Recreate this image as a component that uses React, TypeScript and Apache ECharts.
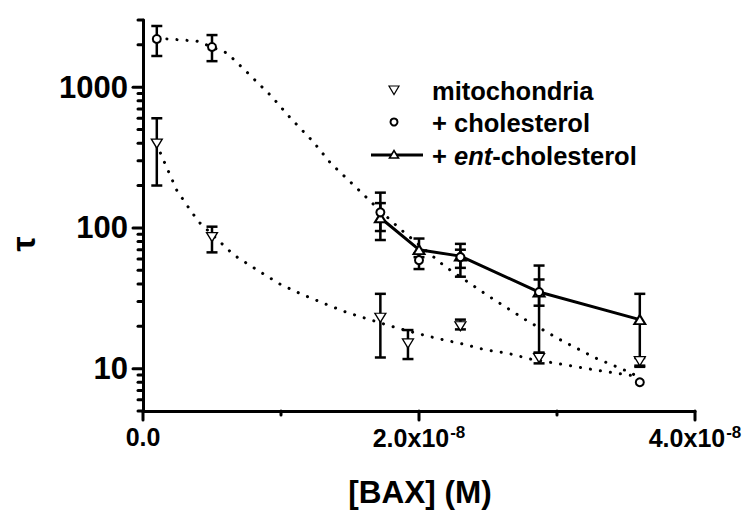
import React, { useEffect, useRef } from "react";
import * as echarts from "echarts";

// ---- data (x in M) ----
const mitoX = [0.1e-8, 0.5e-8, 1.72e-8, 1.92e-8, 2.3e-8, 2.87e-8, 3.6e-8];
const mitoY = [397, 86, 23, 15.1, 20, 11.9, 11.3];
const mitoLo = [200, 67, 12, 11.7, 19, 10.9, 10.5];
const mitoHi = [601, 102, 34, 18.8, 22.3, 12.9, 11.9];

const cholX = [0.1e-8, 0.5e-8, 1.72e-8, 2.0e-8, 2.3e-8, 2.87e-8, 3.6e-8];
const cholY = [2200, 1930, 129, 59, 62, 35, 8];
const cholLo = [1665, 1530, 82, 51, 45, 28, 8];
const cholHi = [2720, 2345, 178, 66, 70, 43, 8];

const entX = [1.72e-8, 2.0e-8, 2.3e-8, 2.87e-8, 3.6e-8];
const entY = [118, 70, 63, 35, 22.3];
const entLo = [95, 62, 52, 13, 10.3];
const entHi = [150, 84, 77, 54, 34];

const cholFitX = [0.1e-8, 0.39e-8, 0.61e-8, 0.76e-8, 0.93e-8, 1.07e-8, 1.23e-8, 1.36e-8, 1.53e-8, 1.72e-8, 1.87e-8, 2.19e-8, 2.52e-8, 2.77e-8, 3.02e-8, 3.28e-8, 3.53e-8, 3.6e-8];
const cholFitY = [2230, 2124, 1746, 1259, 863, 601, 413, 288, 200, 132, 97, 53, 32, 22.3, 16.1, 11.9, 9.4, 8.6];

const mitoFitX = [0.1e-8, 0.13e-8, 0.245e-8, 0.354e-8, 0.41e-8, 0.66e-8, 0.83e-8, 0.99e-8, 1.155e-8, 1.314e-8, 1.48e-8, 1.65e-8, 1.807e-8, 1.976e-8, 2.144e-8, 2.313e-8, 2.48e-8, 2.638e-8, 2.806e-8, 3.047e-8, 3.3e-8, 3.552e-8, 3.6e-8];
const mitoFitY = [397, 333, 185, 129, 109, 64, 50, 40, 33.6, 29, 25, 22.2, 19.9, 17.9, 16.3, 15, 13.6, 12.9, 11.7, 10.7, 9.7, 8.9, 8.6];

const yMajorTicks = [10, 100, 1000];
const yMinorTicks = [5, 6, 7, 8, 9, 20, 30, 40, 50, 60, 70, 80, 90, 200, 300, 400, 500, 600, 700, 800, 900, 2000, 3000];
const xMajorTicks = [0, 2e-8, 4e-8];
const xMinorTicks = [1e-8, 3e-8];

const FONT = "'Liberation Sans', Arial, sans-serif";

const zip = (xs: number[], ys: number[]) => xs.map((x, i) => [x, ys[i]]);
const zip3 = (xs: number[], a: number[], b: number[]) => xs.map((x, i) => [x, a[i], b[i]]);

function errRender(params: any, api: any) {
  const x = api.value(0);
  const lo = api.coord([x, api.value(1)]);
  const hi = api.coord([x, api.value(2)]);
  const hw = 5.5;
  const st = { stroke: "#000", lineWidth: 2.5 };
  if (Math.abs(lo[1] - hi[1]) < 0.5) return { type: "group", children: [] };
  return {
    type: "group",
    children: [
      { type: "line", shape: { x1: lo[0], y1: lo[1], x2: hi[0], y2: hi[1] }, style: st },
      { type: "line", shape: { x1: lo[0] - hw, y1: lo[1], x2: lo[0] + hw, y2: lo[1] }, style: st },
      { type: "line", shape: { x1: hi[0] - hw, y1: hi[1], x2: hi[0] + hw, y2: hi[1] }, style: st },
    ],
  };
}

export default function App() {
  const ref = useRef<HTMLDivElement>(null);
  useEffect(() => {
    if (!ref.current) return;
    const chart = echarts.init(ref.current, null, { renderer: "svg" });
    const dotted = {
      type: "line",
      showSymbol: false,
      symbol: "none",
      z: 1,
      lineStyle: { color: "#000", width: 3, type: [0.1, 10], cap: "round" },
      silent: true,
    };
    const errSeries = (xs: number[], lo: number[], hi: number[]) => ({
      type: "custom",
      z: 2,
      clip: false,
      data: zip3(xs, lo, hi),
      encode: { x: 0, y: [1, 2] },
      renderItem: errRender,
    });
    const tickData = [
      ...yMajorTicks.map((v) => [0, v, 1, 0]),
      ...yMinorTicks.map((v) => [0, v, 0, 0]),
      ...xMajorTicks.map((v) => [v, 5, 1, 1]),
      ...xMinorTicks.map((v) => [v, 5, 0, 1]),
    ];
    const legendText = { fontFamily: FONT, fontWeight: "bold", fontSize: 25.5, fill: "#000", verticalAlign: "middle" };
    chart.setOption({
      animation: false,
      grid: { left: 143, right: 55, top: 20, bottom: 110, outerBoundsMode: "none" },
      xAxis: {
        type: "value",
        min: 0,
        max: 4e-8,
        interval: 2e-8,
        splitLine: { show: false },
        axisTick: { show: false },
        axisLine: { lineStyle: { color: "#000", width: 3, cap: "round" } },
        axisLabel: {
          margin: 13,
          color: "#000",
          fontFamily: FONT,
          fontWeight: "bold",
          fontSize: 25,
          formatter: (v: number) => {
            if (Math.abs(v) < 1e-12) return "0.0";
            return (v / 1e-8).toFixed(1) + "x10{sup|-8}";
          },
          rich: {
            sup: { fontSize: 17, fontWeight: "bold", fontFamily: FONT, color: "#000", verticalAlign: "top", padding: [0, 0, 10, 1] },
          },
        },
      },
      yAxis: {
        type: "log",
        logBase: 10,
        min: 5,
        max: 3000,
        splitLine: { show: false },
        axisTick: { show: false },
        minorTick: { show: false },
        axisLine: { lineStyle: { color: "#000", width: 3, cap: "round" } },
        axisLabel: {
          margin: 15,
          color: "#000",
          fontFamily: FONT,
          fontWeight: "bold",
          fontSize: 31,
          formatter: (v: number) => {
            const r = Math.round(v);
            return yMajorTicks.includes(r) && Math.abs(v - r) < 1e-6 * r ? String(r) : "";
          },
        },
      },
      graphic: [
        { type: "text", x: 420, y: 492, style: { text: "[BAX] (M)", fontFamily: FONT, fontWeight: "bold", fontSize: 31.5, fill: "#000", align: "center", verticalAlign: "middle" } },
        { type: "text", x: 23, y: 244, rotation: Math.PI / 2, style: { text: "τ", fontFamily: FONT, fontWeight: "bold", fontSize: 34, fill: "#000", align: "center", verticalAlign: "middle" } },
        // legend
        { type: "polygon", shape: { points: [[389, 86], [399, 86], [394, 94.5]] }, style: { fill: "#fff", stroke: "#000", lineWidth: 1.2 } },
        { type: "text", x: 432, y: 91, style: { ...legendText, text: "mitochondria" } },
        { type: "circle", shape: { cx: 394, cy: 122, r: 3.5 }, style: { fill: "#fff", stroke: "#000", lineWidth: 2 } },
        { type: "text", x: 432, y: 123, style: { ...legendText, text: "+ cholesterol" } },
        { type: "line", shape: { x1: 371, y1: 155, x2: 423, y2: 155 }, style: { stroke: "#000", lineWidth: 3 } },
        { type: "polygon", shape: { points: [[389.5, 158], [398.5, 158], [394, 150.5]] }, style: { fill: "#fff", stroke: "#000", lineWidth: 1.6 } },
        {
          type: "text", x: 432, y: 156,
          style: {
            ...legendText,
            text: "+ {i|ent}-cholesterol",
            rich: { i: { fontFamily: FONT, fontWeight: "bold", fontStyle: "italic", fontSize: 25.5, fill: "#000" } },
          },
        },
      ],
      series: [
        { ...dotted, name: "cholFit", data: zip(cholFitX, cholFitY) },
        { ...dotted, name: "mitoFit", data: zip(mitoFitX, mitoFitY) },
        errSeries(mitoX, mitoLo, mitoHi),
        errSeries(cholX, cholLo, cholHi),
        errSeries(entX, entLo, entHi),
        {
          type: "custom",
          clip: false,
          silent: true,
          z: 1,
          data: tickData,
          encode: { x: 0, y: 1 },
          renderItem: (params: any, api: any) => {
            const p = api.coord([api.value(0), api.value(1)]);
            const major = api.value(2) === 1;
            const isX = api.value(3) === 1;
            const len = major ? 10 : 5;
            const shape = isX
              ? { x1: p[0], y1: p[1], x2: p[0], y2: p[1] + len - 1 }
              : { x1: p[0] - len, y1: p[1], x2: p[0], y2: p[1] };
            return { type: "line", shape, style: { stroke: "#000", lineWidth: 3, lineCap: "round" } };
          },
        },
        {
          name: "+ ent-cholesterol",
          type: "line",
          z: 3,
          data: zip(entX, entY),
          symbol: "triangle",
          symbolSize: [11, 9],
          lineStyle: { color: "#000", width: 3 },
          itemStyle: { color: "#fff", borderColor: "#000", borderWidth: 2 },
        },
        {
          name: "mitochondria",
          type: "scatter",
          z: 4,
          data: zip(mitoX, mitoY),
          symbol: "triangle",
          symbolRotate: 180,
          symbolSize: [11, 9],
          itemStyle: { color: "#fff", borderColor: "#000", borderWidth: 1.3, opacity: 1 },
        },
        {
          name: "+ cholesterol",
          type: "scatter",
          z: 4,
          data: zip(cholX, cholY),
          symbol: "circle",
          symbolSize: 8,
          itemStyle: { color: "#fff", borderColor: "#000", borderWidth: 2, opacity: 1 },
        },
      ],
    });
    return () => chart.dispose();
  }, []);
  return <div ref={ref} style={{ position: "fixed", left: 0, top: 0, width: 750, height: 521, background: "#fff" }} />;
}
